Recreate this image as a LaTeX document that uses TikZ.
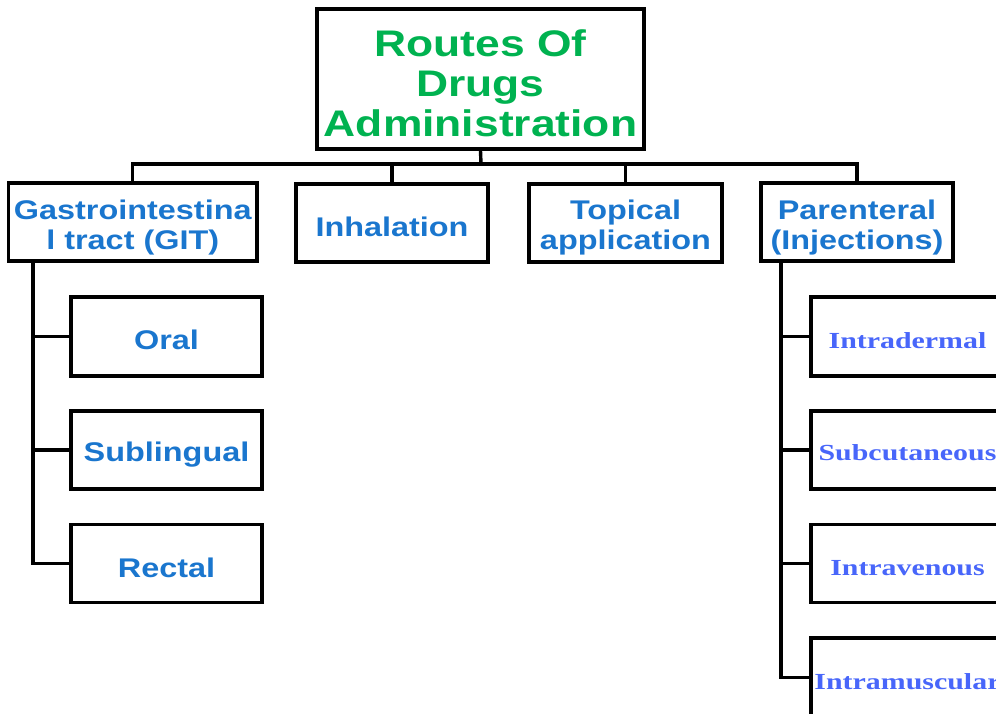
\documentclass[tikz,border=0pt]{standalone}
\usepackage{fontspec}
\newfontfamily\sansx[FakeStretch=1.2]{Liberation Sans}
\newfontfamily\serifx[FakeStretch=1.3]{Liberation Serif}
\definecolor{titlegreen}{RGB}{0,178,80}
\definecolor{routeblue}{RGB}{26,118,206}
\definecolor{injblue}{RGB}{72,102,250}
\begin{document}
\begin{tikzpicture}[x=1pt,y=-1pt,
  box/.style={draw=black,line width=3.4pt,fill=white,inner sep=0pt},
  conn/.style={draw=black,line width=3.4pt,line join=miter},
  lbl/.style={inner sep=0pt,align=center},
  titletext/.style={lbl,font=\sansx\bfseries\fontsize{37}{40}\selectfont,text=titlegreen},
  routetext/.style={lbl,font=\sansx\bfseries\fontsize{27}{30}\selectfont,text=routeblue},
  injtext/.style={lbl,font=\serifx\bfseries\fontsize{23}{26}\selectfont,text=injblue}]
\useasboundingbox (0,0) rectangle (996,714);
\clip (0,0) rectangle (996,714);
\fill[white] (0,0) rectangle (996,714);
% boxes
\node[box,minimum width=327pt,minimum height=140pt] (title) at (480.5,79) {};
\node[box,minimum width=248.5pt,minimum height=78pt] (git) at (132.75,222) {};
\node[box,minimum width=192pt,minimum height=78pt] (inh) at (392,223) {};
\node[box,minimum width=193pt,minimum height=78pt] (top) at (625.5,223) {};
\node[box,minimum width=192pt,minimum height=78pt] (par) at (857,222) {};
\node[box,minimum width=191pt,minimum height=79pt] (oral) at (166.5,336.5) {};
\node[box,minimum width=191pt,minimum height=78pt] (subl) at (166.5,450) {};
\node[box,minimum width=191pt,minimum height=78pt] (rect) at (166.5,563.5) {};
\node[box,minimum width=193pt,minimum height=79pt] (intd) at (907.5,336.5) {};
\node[box,minimum width=193pt,minimum height=78pt] (subc) at (907.5,450) {};
\node[box,minimum width=193pt,minimum height=78pt] (intv) at (907.5,563.5) {};
\node[box,minimum width=193pt,minimum height=79pt] (intm) at (907.5,677.5) {};
% texts
\node[titletext] (titlet) at ([yshift=-4pt]title.center) {Routes Of\\Drugs\\Administration};
\node[routetext] (gitt) at ([yshift=-6pt]git.center) {Gastrointestina\\l tract (GIT)};
\node[routetext] (inht) at ([yshift=-4pt]inh.center) {Inhalation};
\node[routetext] (topt) at ([yshift=-5pt]top.center) {Topical\\application};
\node[routetext] (part) at ([yshift=-6pt]par.center) {Parenteral\\(Injections)};
\node[routetext] (oralt) at ([yshift=-3pt]oral.center) {Oral};
\node[routetext] (sublt) at ([yshift=-5pt]subl.center) {Sublingual};
\node[routetext] (rectt) at ([yshift=-4pt]rect.center) {Rectal};
\node[injtext] (intdt) at ([yshift=-4pt]intd.center) {Intradermal};
\node[injtext] (subct) at ([yshift=-3pt]subc.center) {Subcutaneous};
\node[injtext] (intvt) at ([yshift=-5pt]intv.center) {Intravenous};
\node[injtext] (intmt) at ([yshift=-4pt]intm.center) {Intramuscular};
% connectors
\coordinate (bus) at (481,164);
\draw[conn] (title.south) -- (bus);
\draw[conn] (git.north) -- (git.north |- bus) -- (par.north |- bus) -- (par.north);
\draw[conn] (inh.north) -- (inh.north |- bus);
\draw[conn] (top.north) -- (top.north |- bus);
\coordinate (sl) at (33,261);
\draw[conn] (sl) |- (oral.west);
\draw[conn] (sl) |- (subl.west);
\draw[conn] (sl) |- (rect.west);
\coordinate (sr) at (781,261);
\draw[conn] (sr) |- (intd.west);
\draw[conn] (sr) |- (subc.west);
\draw[conn] (sr) |- (intv.west);
\draw[conn] (sr) |- (intm.west);
\end{tikzpicture}
\end{document}
